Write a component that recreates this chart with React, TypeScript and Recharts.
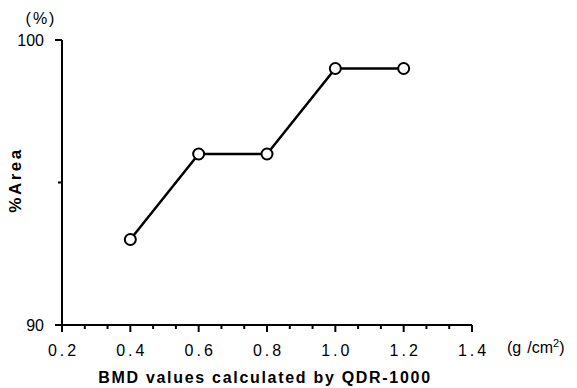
import { Label, Line, LineChart, XAxis, YAxis } from 'recharts';

const bmdValues = [0.4, 0.6, 0.8, 1.0, 1.2];
const areaPercent = [93, 96, 96, 99, 99];

const xMajorTicks = [0.2, 0.4, 0.6, 0.8, 1.0, 1.2, 1.4];
const yMajorTicks = [90, 100];
const yMinorTicks = [95];

// three sub-divisions between every labelled x tick
const xAllTicks = xMajorTicks.flatMap((t, i) =>
  i === xMajorTicks.length - 1 ? [t] : [t, t + 0.2 / 3, t + 0.4 / 3]
);
const yAllTicks = [...yMajorTicks, ...yMinorTicks].sort((a, b) => a - b);

const data = bmdValues.map((x, i) => ({ x, area: areaPercent[i] }));

const FONT = '"Liberation Sans", Arial, Helvetica, sans-serif';

const isMajor = (list: number[], v: number) => list.some((t) => Math.abs(t - v) < 1e-6);

const XTick = ({ x, y, payload }: any) => {
  const major = isMajor(xMajorTicks, payload.value);
  return (
    <g>
      <line x1={x} x2={x} y1={y} y2={y + (major ? 7 : 4)} stroke="#000" strokeWidth={2} />
      {major && (
        <text
          x={x + 1.5}
          y={y + 31}
          textAnchor="middle"
          fontFamily={FONT}
          fontSize={16}
          letterSpacing={3}
          fill="#000"
        >
          {payload.value.toFixed(1)}
        </text>
      )}
    </g>
  );
};

const YTick = ({ x, y, payload }: any) => {
  const major = isMajor(yMajorTicks, payload.value);
  return (
    <g>
      <line x1={x - (major ? 7 : 4)} x2={x} y1={y} y2={y} stroke="#000" strokeWidth={2} />
      {major && (
        <text
          x={x - 18}
          y={y + 5.5}
          textAnchor="end"
          fontFamily={FONT}
          fontSize={16}
          fill="#000"
        >
          {payload.value}
        </text>
      )}
    </g>
  );
};

export default function App() {
  return (
    <div style={{ position: 'absolute', left: 0, top: 0, background: '#fff' }}>
      <LineChart
        width={577}
        height={388}
        data={data}
        margin={{ top: 40, right: 105, left: 0, bottom: 0 }}
      >
        <XAxis
          dataKey="x"
          type="number"
          domain={[0.2, 1.4]}
          ticks={xAllTicks}
          interval={0}
          tick={<XTick />}
          tickLine={false}
          tickSize={0}
          tickMargin={0}
          height={63}
          axisLine={{ stroke: '#000', strokeWidth: 2 }}
        >
          <Label
            content={() => (
              <g fontFamily={FONT} fill="#000">
                <text x={507} y={353} fontSize={16}>
                  (g
                  <tspan dx={6}>/cm</tspan>
                  <tspan fontSize={11} dy={-6}>2</tspan>
                  <tspan dy={6}>)</tspan>
                </text>
                <text
                  x={265}
                  y={383}
                  textAnchor="middle"
                  fontSize={16}
                  fontWeight="bold"
                  letterSpacing={1.7}
                >
                  BMD values calculated by QDR-1000
                </text>
              </g>
            )}
          />
        </XAxis>
        <YAxis
          type="number"
          domain={[90, 100]}
          ticks={yAllTicks}
          interval={0}
          tick={<YTick />}
          tickLine={false}
          tickSize={0}
          tickMargin={0}
          width={62}
          axisLine={{ stroke: '#000', strokeWidth: 2 }}
        >
          <Label
            content={() => (
              <g fontFamily={FONT} fill="#000">
                <text x={41} y={24} textAnchor="middle" fontSize={16} letterSpacing={2}>
                  (%)
                </text>
                <text
                  x={21}
                  y={180}
                  textAnchor="middle"
                  fontSize={17}
                  fontWeight="bold"
                  letterSpacing={2.5}
                  transform="rotate(-90 21 180)"
                >
                  %Area
                </text>
              </g>
            )}
          />
        </YAxis>
        <Line
          dataKey="area"
          type="linear"
          stroke="#000"
          strokeWidth={2.5}
          dot={{ r: 5.5, fill: '#fff', stroke: '#000', strokeWidth: 2 }}
          activeDot={false}
          isAnimationActive={false}
        />
      </LineChart>
    </div>
  );
}
